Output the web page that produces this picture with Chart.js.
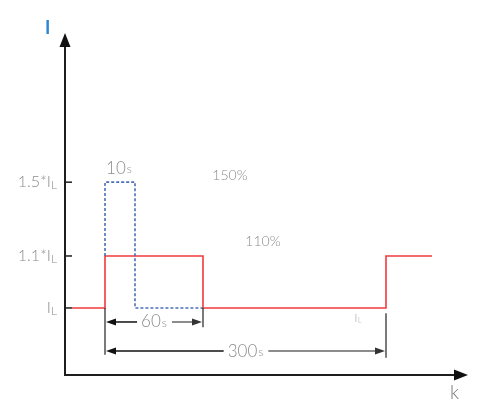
<!DOCTYPE html>
<html>
<head>
<meta charset="utf-8">
<script src="https://cdn.jsdelivr.net/npm/chart.js@4.4.1/dist/chart.umd.min.js"></script>
<style>
  html, body { margin: 0; padding: 0; background: #fff; }
  #wrap { width: 478px; height: 409px; }
</style>
</head>
<body>
<div id="wrap"><canvas id="c"></canvas></div>
<script>
// Schematic time positions (x) and current levels (y: 1 = IL, 2 = 1.1*IL, 3.42 = 1.5*IL)
const redX = [0.7, 4, 4, 13.8, 13.8, 32.1, 32.1, 36.7];
const redY = [1, 1, 2, 2, 1, 1, 2, 2];
const blueX = [4, 4, 7, 7, 13.8];
const blueY = [2, 3.42, 3.42, 1, 1];

const yLevels = [1, 2, 3.42];
const yTickMain = ['I', '1.1*I', '1.5*I'];

// dimension arrows: from / to on x, level on y, label
const dimFrom = [4, 4];
const dimTo = [13.8, 32.1];
const dimLevel = [0.73, 0.17];
const dimLabel = ['60', '300'];
// extension lines at x, from level to level
const extX = [4, 13.8, 32.1];
const extTop = [1, 1, 0.9];
const extBottom = [0.1, 0.63, 0.04];

const GRAY = '#8c8c8c';
const FONT = 'Lato, "Open Sans", sans-serif';

function txt(ctx, s, x, y, size, color, align, weight) {
    ctx.font = (weight || 300) + ' ' + size + 'px ' + FONT;
    ctx.fillStyle = color;
    ctx.textAlign = align || 'left';
    ctx.textBaseline = 'middle';
    ctx.fillText(s, x, y);
    return ctx.measureText(s).width;
}

// number + small suffix, centred at x
function withSuffix(ctx, main, suf, cx, y, bigSize, smallSize) {
    ctx.font = '300 ' + bigSize + 'px ' + FONT;
    const w1 = ctx.measureText(main).width;
    ctx.font = '300 ' + smallSize + 'px ' + FONT;
    const w2 = ctx.measureText(suf).width;
    const x0 = cx - (w1 + w2 + 1) / 2;
    txt(ctx, main, x0, y, bigSize, GRAY);
    txt(ctx, suf, x0 + w1 + 1, y + 1, smallSize, GRAY);
    return { left: x0, right: x0 + w1 + w2 + 1 };
}

function arrowHead(ctx, x, y, dir, len, half, color) {
    ctx.fillStyle = color;
    ctx.beginPath();
    if (dir === 'up') { ctx.moveTo(x, y); ctx.lineTo(x - half, y + len); ctx.lineTo(x + half, y + len); }
    if (dir === 'right') { ctx.moveTo(x, y); ctx.lineTo(x - len, y - half); ctx.lineTo(x - len, y + half); }
    if (dir === 'left') { ctx.moveTo(x, y); ctx.lineTo(x + len, y - half); ctx.lineTo(x + len, y + half); }
    ctx.closePath();
    ctx.fill();
}

const drawingPlugin = {
    id: 'drawing',
    afterDraw(chart) {
        const ctx = chart.ctx;
        const xs = chart.scales.x, ys = chart.scales.y;
        const area = chart.chartArea;
        const ox = area.left, oy = area.bottom;
        ctx.save();

        // axes
        ctx.strokeStyle = '#1e1e1e';
        ctx.lineWidth = 2;
        ctx.beginPath();
        ctx.moveTo(ox, oy); ctx.lineTo(ox, area.top + 12);
        ctx.moveTo(ox - 1, oy); ctx.lineTo(area.right - 12, oy);
        ctx.stroke();
        arrowHead(ctx, ox, area.top, 'up', 14, 5.5, '#111');
        arrowHead(ctx, area.right, oy, 'right', 14, 5.5, '#111');
        txt(ctx, 'I', ox - 20, area.top - 5, 18, '#2b87d3', 'left', 700);
        txt(ctx, 'k', area.right - 18, oy + 18, 19, '#777');

        // y ticks + labels
        yLevels.forEach((v, i) => {
            const py = ys.getPixelForValue(v);
            ctx.strokeStyle = '#1e1e1e';
            ctx.lineWidth = 1.5;
            ctx.beginPath(); ctx.moveTo(ox, py); ctx.lineTo(ox + 7, py); ctx.stroke();
            ctx.font = '300 12px ' + FONT;
            const wl = ctx.measureText('L').width;
            txt(ctx, 'L', ox - 8, py + 3, 12, GRAY, 'right');
            txt(ctx, yTickMain[i], ox - 8 - wl, py, 16, GRAY, 'right');
        });

        // extension lines
        ctx.strokeStyle = '#222';
        ctx.lineWidth = 1.2;
        extX.forEach((v, i) => {
            const px = xs.getPixelForValue(v);
            ctx.beginPath();
            ctx.moveTo(px, ys.getPixelForValue(extTop[i]));
            ctx.lineTo(px, ys.getPixelForValue(extBottom[i]));
            ctx.stroke();
        });

        // dimension arrows with labels
        dimLabel.forEach((lab, i) => {
            const x1 = xs.getPixelForValue(dimFrom[i]);
            const x2 = xs.getPixelForValue(dimTo[i]);
            const py = ys.getPixelForValue(dimLevel[i]);
            const b = withSuffix(ctx, lab, 's', (x1 + x2) / 2, py, 17, 12);
            ctx.lineWidth = 1.5;
            ctx.strokeStyle = '#111';
            ctx.beginPath(); ctx.moveTo(x1 + 8, py); ctx.lineTo(b.left - 4, py); ctx.stroke();
            ctx.strokeStyle = '#666';
            ctx.beginPath(); ctx.moveTo(b.right + 5, py); ctx.lineTo(x2 - 8, py); ctx.stroke();
            arrowHead(ctx, x1 + 1, py, 'left', 10, 3.5, '#111');
            arrowHead(ctx, x2 - 1, py, 'right', 10, 3.5, '#333');
        });

        // free labels
        withSuffix(ctx, '10', 's', xs.getPixelForValue(5.4), ys.getPixelForValue(3.69), 17, 12);
        txt(ctx, '150%', xs.getPixelForValue(16.5), ys.getPixelForValue(3.54), 14, GRAY, 'center');
        txt(ctx, '110%', xs.getPixelForValue(19.8), ys.getPixelForValue(2.27), 14, GRAY, 'center');
        txt(ctx, 'I', xs.getPixelForValue(29.1), ys.getPixelForValue(0.79), 11, '#a0a0a0', 'center');
        txt(ctx, 'L', xs.getPixelForValue(29.1) + 2, ys.getPixelForValue(0.76), 7, '#a0a0a0');

        ctx.restore();
    }
};

new Chart(document.getElementById('c'), {
    type: 'line',
    data: {
        datasets: [
            {
                label: 'overload 150%',
                data: blueX.map((x, i) => ({ x, y: blueY[i] })),
                borderColor: '#4a6fb5',
                borderWidth: 1.6,
                borderDash: [3, 2],
                pointRadius: 0,
                tension: 0,
                fill: false,
                order: 0
            },
            {
                label: 'overload 110%',
                data: redX.map((x, i) => ({ x, y: redY[i] })),
                borderColor: '#f23a3a',
                borderWidth: 1.6,
                pointRadius: 0,
                tension: 0,
                fill: false,
                order: 1
            }
        ]
    },
    options: {
        responsive: true,
        maintainAspectRatio: false,
        animation: false,
        layout: { padding: { left: 65, right: 10, top: 33, bottom: 34 } },
        plugins: {
            legend: { display: false },
            tooltip: { enabled: false }
        },
        scales: {
            x: { type: 'linear', min: 0, max: 40.3, display: false },
            y: { type: 'linear', min: -0.29, max: 6.29, display: false }
        }
    },
    plugins: [drawingPlugin]
});
</script>
</body>
</html>
